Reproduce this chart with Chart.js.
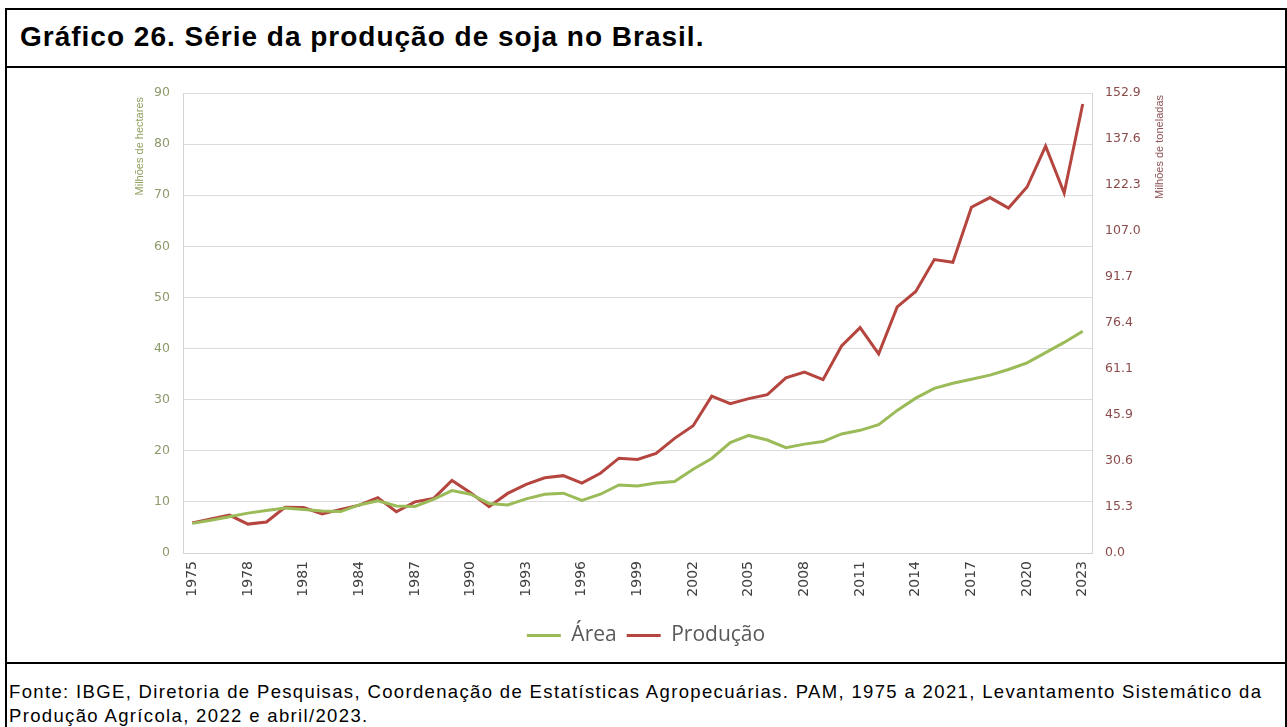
<!DOCTYPE html>
<html>
<head>
<meta charset="utf-8">
<script src="https://cdn.jsdelivr.net/npm/chart.js@4/dist/chart.umd.min.js"></script>
<style>
  body { margin: 0; background: #fff; }
  #frame { position: absolute; left: 5px; top: 8px; width: 1278px; height: 730px;
           border: 2px solid #000; border-bottom: none; }
  #title { font: bold 28px "Liberation Sans", Arial, sans-serif; letter-spacing: 1px;
           height: 56px; line-height: 54px; padding-left: 13px; border-bottom: 2px solid #000;
           color: #000; white-space: nowrap; }
  #chartBox { height: 594px; border-bottom: 2px solid #000; }
  #footer { font: 18.5px "Liberation Sans", Arial, sans-serif; letter-spacing: 1.35px;
            line-height: 24px; padding: 16px 0 0 2px; color: #000; white-space: nowrap; }
</style>
</head>
<body>
<div id="frame">
  <div id="title">Gráfico 26. Série da produção de soja no Brasil.</div>
  <div id="chartBox"><canvas id="chart" width="1278" height="594"></canvas></div>
  <div id="footer">Fonte: IBGE, Diretoria de Pesquisas, Coordenação de Estatísticas Agropecuárias. PAM, 1975 a 2021, Levantamento Sistemático da<br>Produção Agrícola, 2022 e abril/2023.</div>
</div>
<script>
const years = ['1975', '1976', '1977', '1978', '1979', '1980', '1981', '1982', '1983', '1984',
               '1985', '1986', '1987', '1988', '1989', '1990', '1991', '1992', '1993', '1994',
               '1995', '1996', '1997', '1998', '1999', '2000', '2001', '2002', '2003', '2004',
               '2005', '2006', '2007', '2008', '2009', '2010', '2011', '2012', '2013', '2014',
               '2015', '2016', '2017', '2018', '2019', '2020', '2021', '2022', '2023'];

// milhões de hectares
const area = [5.8, 6.4, 7.1, 7.8, 8.3, 8.8, 8.5, 8.2, 8.1, 9.4,
              10.2, 9.2, 9.1, 10.5, 12.2, 11.5, 9.7, 9.4, 10.6, 11.5,
              11.7, 10.3, 11.5, 13.3, 13.1, 13.7, 14.0, 16.4, 18.5, 21.6,
              23.0, 22.1, 20.6, 21.3, 21.8, 23.3, 24.0, 25.1, 27.9, 30.3,
              32.2, 33.2, 34.0, 34.8, 35.9, 37.2, 39.2, 41.2, 43.4];

// milhões de toneladas
const producao = [10.0, 11.3, 12.6, 9.6, 10.3, 15.2, 15.1, 13.0, 14.5, 15.9,
                  18.4, 13.7, 17.0, 18.1, 24.1, 20.0, 15.4, 19.8, 22.8, 25.0,
                  25.7, 23.2, 26.5, 31.5, 31.1, 33.1, 38.1, 42.3, 52.1, 49.6,
                  51.3, 52.6, 58.2, 60.1, 57.6, 68.8, 74.9, 66.2, 81.8, 86.9,
                  97.5, 96.6, 114.9, 118.1, 114.6, 121.6, 135.2, 119.6, 149.2];

const leftTicks = [0, 10, 20, 30, 40, 50, 60, 70, 80, 90];
const rightTickLabels = ['0.0', '15.3', '30.6', '45.9', '61.1', '76.4', '91.7', '107.0', '122.3', '137.6', '152.9'];
const rightMax = 152.85;

const green = '#9bbb59';
const red = '#b5453f';

// axis titles read bottom-to-top on both sides, so draw them by hand
const axisTitles = {
    id: 'axisTitles',
    afterDraw(chart) {
        const ctx = chart.ctx;
        const top = chart.chartArea.top;
        ctx.save();
        ctx.font = '11px "Liberation Sans", Arial, sans-serif';
        ctx.textBaseline = 'middle';
        ctx.textAlign = 'right';

        ctx.fillStyle = '#8fa062';
        ctx.translate(133, top + 4);
        ctx.rotate(-Math.PI / 2);
        ctx.fillText('Milhões de hectares', 0, 0);
        ctx.restore();

        ctx.save();
        ctx.font = '11px "Liberation Sans", Arial, sans-serif';
        ctx.textBaseline = 'middle';
        ctx.textAlign = 'right';
        ctx.fillStyle = '#8e5555';
        ctx.translate(chart.scales.y1.left + 68, top + 2);
        ctx.rotate(-Math.PI / 2);
        ctx.fillText('Milhões de toneladas', 0, 0);
        ctx.restore();
    }
};

const chart = new Chart(document.querySelector('#chart'), {
    type: 'line',
    data: {
        labels: years,
        datasets: [
            {
                label: 'Área',
                data: area,
                borderColor: green,
                backgroundColor: green,
                borderWidth: 3,
                pointRadius: 0,
                tension: 0,
                yAxisID: 'y'
            },
            {
                label: 'Produção',
                data: producao,
                borderColor: red,
                backgroundColor: red,
                borderWidth: 3,
                pointRadius: 0,
                tension: 0,
                yAxisID: 'y1'
            }
        ]
    },
    options: {
        responsive: false,
        animation: false,
        layout: { padding: { top: 25, left: 0, right: 0, bottom: 6 } },
        plugins: {
            tooltip: { enabled: false },
            legend: {
                position: 'bottom',
                labels: {
                    usePointStyle: true,
                    pointStyle: 'line',
                    pointStyleWidth: 34,
                    padding: 10,
                    color: '#595959',
                    font: { family: '"Open Sans"', size: 21 }
                }
            }
        },
        scales: {
            x: {
                offset: true,
                grid: { display: false, drawTicks: false },
                border: { display: true, color: '#d4d4d4' },
                afterFit: (scale) => { scale.height = 62; },
                ticks: {
                    autoSkip: false,
                    maxRotation: 90,
                    minRotation: 90,
                    padding: 8,
                    color: '#404040',
                    font: { family: '"DejaVu Sans"', size: 14 },
                    callback: (val, i) => (i % 3 === 0 ? years[i] : '')
                }
            },
            y: {
                position: 'left',
                min: 0,
                max: 90,
                afterFit: (scale) => { scale.width = 176; },
                afterBuildTicks: (scale) => { scale.ticks = leftTicks.map(v => ({ value: v })); },
                grid: { color: '#dcdcdc', drawTicks: false },
                border: { display: true, color: '#d4d4d4' },
                ticks: {
                    padding: 13,
                    color: '#8c9a6c',
                    font: { family: '"DejaVu Sans"', size: 12.5 }
                }
            },
            y1: {
                position: 'right',
                min: 0,
                max: rightMax,
                afterFit: (scale) => { scale.width = 193; },
                afterBuildTicks: (scale) => {
                    scale.ticks = rightTickLabels.map((t, i) => ({ value: rightMax * i / 10 }));
                },
                grid: { drawOnChartArea: false, drawTicks: false },
                border: { display: true, color: '#d4d4d4' },
                ticks: {
                    padding: 13,
                    color: '#8b4b4b',
                    font: { family: '"DejaVu Sans"', size: 12.5 },
                    callback: (val, i) => rightTickLabels[i]
                }
            }
        }
    },
    plugins: [axisTitles]
});
</script>
</body>
</html>
